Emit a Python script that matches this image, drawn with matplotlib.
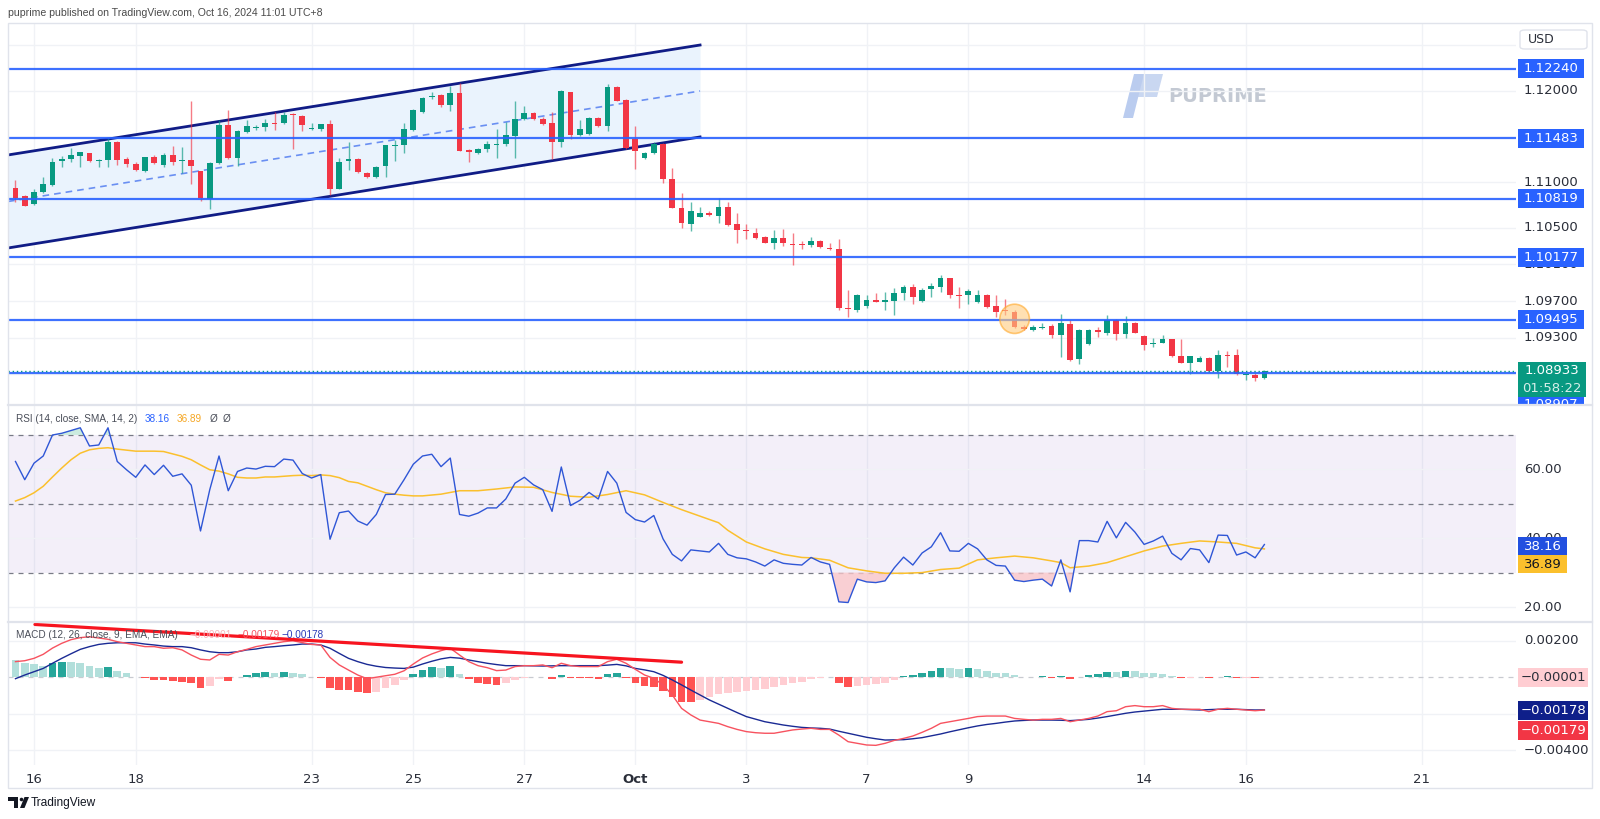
import matplotlib
matplotlib.use('Agg')
import matplotlib.pyplot as plt
from matplotlib.patches import Rectangle, Polygon, Ellipse, FancyBboxPatch
from matplotlib.transforms import Bbox
import numpy as np

W, H = 1600, 819

# ---------------- data (EURUSD 4H) ----------------
opens = [1.10940, 1.10852, 1.10761, 1.10893, 1.10969, 1.11235, 1.11254, 1.11286, 1.11316, 1.11232,
         1.11246, 1.11443, 1.11254, 1.11195, 1.11119, 1.11272, 1.11192, 1.11297, 1.11228, 1.11239,
         1.11119, 1.10813, 1.11206, 1.11622, 1.11265, 1.11553, 1.11593, 1.11607, 1.11644, 1.11644,
         1.11746, 1.11728, 1.11582, 1.11582, 1.11633, 1.10929, 1.11235, 1.11254, 1.11097, 1.11060,
         1.11177, 1.11396, 1.11407, 1.11571, 1.11768, 1.11928, 1.11954, 1.11844, 1.11972, 1.11352,
         1.11323, 1.11367, 1.11410, 1.11414, 1.11505, 1.11695, 1.11760, 1.11695, 1.11644, 1.11443,
         1.11983, 1.11516, 1.11527, 1.11706, 1.11615, 1.12045, 1.11899, 1.11476, 1.11261, 1.11316,
         1.11414, 1.11035, 1.10721, 1.10546, 1.10623, 1.10659, 1.10634, 1.10725, 1.10546, 1.10473,
         1.10441, 1.10397, 1.10338, 1.10386, 1.10324, 1.10320, 1.10309, 1.10357, 1.10284, 1.10265,
         1.09616, 1.09602, 1.09649, 1.09711, 1.09693, 1.09704, 1.09784, 1.09857, 1.09704, 1.09828,
         1.09857, 1.09948, 1.09766, 1.09770, 1.09686, 1.09766, 1.09649, 1.09598, 1.09576, 1.09419,
         1.09383, 1.09409, 1.09427, 1.09328, 1.09449, 1.09066, 1.09230, 1.09383, 1.09354, 1.09492,
         1.09336, 1.09463, 1.09317, 1.09230, 1.09244, 1.09281, 1.09098, 1.09026, 1.09036, 1.09080,
         1.08938, 1.09106, 1.09109, 1.08894, 1.08891, 1.08854]
highs = [1.11024, 1.10860, 1.10922, 1.11057, 1.11261, 1.11290, 1.11378, 1.11330, 1.11323, 1.11250,
         1.11480, 1.11450, 1.11279, 1.11224, 1.11279, 1.11294, 1.11323, 1.11396, 1.11389, 1.11888,
         1.11125, 1.11221, 1.11680, 1.11786, 1.11571, 1.11680, 1.11629, 1.11691, 1.11768, 1.11764,
         1.11753, 1.11735, 1.11644, 1.11640, 1.11680, 1.11268, 1.11436, 1.11261, 1.11108, 1.11181,
         1.11407, 1.11462, 1.11644, 1.11801, 1.11936, 1.11987, 1.11961, 1.12056, 1.12082, 1.11363,
         1.11374, 1.11454, 1.11585, 1.11658, 1.11888, 1.11833, 1.11768, 1.11710, 1.11764, 1.12009,
         1.11990, 1.11680, 1.11717, 1.11717, 1.12074, 1.12052, 1.11910, 1.11618, 1.11334, 1.11443,
         1.11425, 1.11151, 1.10878, 1.10787, 1.10725, 1.10685, 1.10823, 1.10787, 1.10659, 1.10543,
         1.10502, 1.10411, 1.10477, 1.10484, 1.10440, 1.10360, 1.10404, 1.10368, 1.10331, 1.10382,
         1.09821, 1.09777, 1.09766, 1.09784, 1.09795, 1.09839, 1.09875, 1.09882, 1.09839, 1.09893,
         1.09985, 1.09955, 1.09857, 1.09828, 1.09821, 1.09777, 1.09766, 1.09718, 1.09602, 1.09438,
         1.09438, 1.09463, 1.09449, 1.09558, 1.09492, 1.09390, 1.09390, 1.09419, 1.09547, 1.09500,
         1.09540, 1.09474, 1.09328, 1.09292, 1.09328, 1.09288, 1.09288, 1.09098, 1.09098, 1.09091,
         1.09164, 1.09157, 1.09175, 1.08902, 1.08909, 1.08945]
lows = [1.10787, 1.10739, 1.10750, 1.10878, 1.10962, 1.11170, 1.11224, 1.11170, 1.11224, 1.11170,
        1.11162, 1.11192, 1.11162, 1.11119, 1.11115, 1.11199, 1.11170, 1.11188, 1.11097, 1.10980,
        1.10798, 1.10703, 1.11195, 1.11250, 1.11177, 1.11542, 1.11571, 1.11564, 1.11571, 1.11633,
        1.11367, 1.11564, 1.11571, 1.11564, 1.10860, 1.10922, 1.11133, 1.11104, 1.11049, 1.11049,
        1.11053, 1.11232, 1.11323, 1.11564, 1.11761, 1.11906, 1.11826, 1.11782, 1.11337, 1.11224,
        1.11308, 1.11327, 1.11268, 1.11396, 1.11268, 1.11680, 1.11680, 1.11629, 1.11257, 1.11381,
        1.11469, 1.11509, 1.11520, 1.11607, 1.11560, 1.11885, 1.11363, 1.11144, 1.11250, 1.11308,
        1.10995, 1.10714, 1.10495, 1.10466, 1.10616, 1.10630, 1.10557, 1.10524, 1.10338, 1.10382,
        1.10382, 1.10331, 1.10269, 1.10302, 1.10098, 1.10265, 1.10295, 1.10276, 1.10258, 1.09602,
        1.09529, 1.09584, 1.09620, 1.09686, 1.09602, 1.09547, 1.09711, 1.09667, 1.09693, 1.09748,
        1.09802, 1.09729, 1.09620, 1.09667, 1.09675, 1.09627, 1.09529, 1.09547, 1.09408, 1.09383,
        1.09376, 1.09398, 1.09292, 1.09084, 1.09047, 1.09007, 1.09222, 1.09310, 1.09328, 1.09274,
        1.09292, 1.09346, 1.09164, 1.09201, 1.09237, 1.09091, 1.09018, 1.08898, 1.09029, 1.08927,
        1.08854, 1.08975, 1.08891, 1.08836, 1.08829, 1.08850]
closes = [1.10831, 1.10743, 1.10896, 1.10980, 1.11224, 1.11254, 1.11294, 1.11330, 1.11232, 1.11243,
          1.11443, 1.11243, 1.11195, 1.11133, 1.11272, 1.11206, 1.11297, 1.11224, 1.11243, 1.11177,
          1.10831, 1.11206, 1.11622, 1.11261, 1.11556, 1.11615, 1.11604, 1.11644, 1.11637, 1.11739,
          1.11739, 1.11629, 1.11593, 1.11633, 1.10929, 1.11224, 1.11254, 1.11111, 1.11060, 1.11170,
          1.11403, 1.11407, 1.11582, 1.11790, 1.11921, 1.11947, 1.11844, 1.11972, 1.11345, 1.11330,
          1.11367, 1.11414, 1.11418, 1.11513, 1.11695, 1.11760, 1.11688, 1.11640, 1.11443, 1.12001,
          1.11516, 1.11585, 1.11706, 1.11615, 1.12045, 1.11892, 1.11370, 1.11345, 1.11319, 1.11418,
          1.11031, 1.10717, 1.10550, 1.10685, 1.10659, 1.10641, 1.10725, 1.10532, 1.10473, 1.10462,
          1.10393, 1.10338, 1.10386, 1.10331, 1.10309, 1.10313, 1.10357, 1.10287, 1.10265, 1.09620,
          1.09609, 1.09766, 1.09711, 1.09693, 1.09711, 1.09784, 1.09857, 1.09748, 1.09821, 1.09864,
          1.09948, 1.09766, 1.09759, 1.09813, 1.09766, 1.09638, 1.09584, 1.09591, 1.09419, 1.09394,
          1.09419, 1.09416, 1.09328, 1.09456, 1.09055, 1.09383, 1.09383, 1.09361, 1.09492, 1.09336,
          1.09463, 1.09354, 1.09219, 1.09244, 1.09281, 1.09098, 1.09026, 1.09098, 1.09080, 1.08938,
          1.09109, 1.09098, 1.08898, 1.08902, 1.08854, 1.08933]

rsi = [62.3, 57.0, 61.8, 63.9, 70.0, 70.5, 71.3, 72.1, 66.8, 67.1,
       72.1, 62.3, 59.9, 57.7, 61.3, 58.5, 61.2, 58.0, 58.7, 55.4,
       42.1, 54.1, 63.9, 53.8, 59.4, 60.4, 60.1, 60.9, 60.8, 63.0,
       62.7, 58.8, 57.5, 58.5, 39.7, 47.4, 47.9, 45.0, 43.8, 46.9,
       52.7, 52.8, 57.0, 61.5, 63.9, 64.4, 60.8, 63.3, 46.9, 46.4,
       47.3, 48.8, 48.8, 51.4, 56.0, 57.7, 55.5, 54.1, 47.8, 60.7,
       49.5, 51.0, 53.3, 51.4, 59.4, 56.0, 47.5, 45.4, 44.7, 46.6,
       39.8, 35.3, 33.4, 36.6, 36.3, 36.0, 38.5, 35.3, 34.3, 34.0,
       33.1, 31.9, 33.7, 32.7, 32.4, 32.2, 34.4, 33.1, 32.4, 21.5,
       21.3, 28.1, 27.3, 27.1, 27.6, 31.4, 34.5, 32.2, 35.7, 37.5,
       41.6, 36.3, 36.2, 38.5, 36.9, 33.7, 32.1, 31.9, 27.8, 27.4,
       27.8, 28.1, 26.1, 33.7, 24.4, 39.3, 39.3, 38.9, 44.9, 40.1,
       44.6, 41.8, 38.2, 39.2, 40.6, 35.6, 33.7, 37.0, 36.6, 32.9,
       40.9, 40.8, 35.1, 36.0, 34.3, 38.16]

rsi_sma_idx = [0, 1, 2, 3, 4, 5, 6, 7, 8, 9, 10, 11, 13, 15, 16, 17, 18, 19, 20, 21,
               22, 23, 24, 25, 26, 27, 28, 29, 30, 31, 32, 33, 34, 35, 36, 37, 38, 39, 40, 41,
               42, 43, 44, 46, 48, 50, 52, 54, 56, 58, 60, 62, 64, 66, 68, 70, 72, 74, 76, 77,
               79, 81, 83, 85, 86, 88, 90, 92, 94, 96, 98, 100, 102, 104, 106, 108, 110, 112, 113, 114,
               116, 118, 120, 122, 124, 126, 128, 130, 132, 134, 135]
rsi_sma = [50.8, 51.8, 53.2, 55.1, 57.8, 60.4, 62.8, 64.7, 65.7, 66.1, 66.3, 65.9, 65.3, 65.3, 65.2, 64.5, 63.8, 62.8, 61.3, 59.9,
           59.5, 58.7, 57.7, 57.5, 57.5, 57.8, 57.8, 58.0, 58.2, 58.3, 58.2, 58.4, 58.2, 57.6, 56.5, 56.1, 55.1, 54.1, 53.2, 52.8,
           52.5, 52.3, 52.3, 52.8, 53.8, 53.8, 54.3, 54.9, 54.8, 53.3, 52.2, 51.9, 52.7, 53.8, 52.6, 50.4, 48.3, 46.4, 44.5, 42.3,
           38.9, 36.9, 35.3, 34.4, 34.3, 33.6, 31.4, 30.5, 29.8, 29.8, 30.0, 30.9, 31.3, 33.7, 34.3, 34.8, 34.3, 33.4, 32.9, 31.4,
           31.9, 32.9, 34.6, 36.3, 37.7, 38.5, 39.2, 38.9, 38.5, 37.2, 36.89]

macd = [0.00085, 0.00090, 0.00103, 0.00125, 0.00159, 0.00185, 0.00205, 0.00216, 0.00221, 0.00214,
        0.00207, 0.00194, 0.00185, 0.00176, 0.00167, 0.00167, 0.00158, 0.00161, 0.00149, 0.00121,
        0.00098, 0.00094, 0.00125, 0.00121, 0.00139, 0.00152, 0.00167, 0.00176, 0.00185, 0.00194,
        0.00199, 0.00189, 0.00179, 0.00176, 0.00108, 0.00067, 0.00039, 0.00012, -0.00008, 0.00000,
        0.00008, 0.00016, 0.00035, 0.00072, 0.00105, 0.00127, 0.00145, 0.00158, 0.00121, 0.00085,
        0.00063, 0.00052, 0.00036, 0.00039, 0.00058, 0.00063, 0.00063, 0.00067, 0.00052, 0.00076,
        0.00063, 0.00058, 0.00058, 0.00058, 0.00085, 0.00098, 0.00076, 0.00043, 0.00012, -0.00006,
        -0.00043, -0.00097, -0.00170, -0.00206, -0.00234, -0.00243, -0.00252, -0.00270, -0.00285, -0.00297,
        -0.00303, -0.00306, -0.00306, -0.00297, -0.00288, -0.00283, -0.00279, -0.00285, -0.00285, -0.00316,
        -0.00352, -0.00361, -0.00370, -0.00372, -0.00361, -0.00345, -0.00334, -0.00321, -0.00301, -0.00279,
        -0.00252, -0.00243, -0.00234, -0.00225, -0.00215, -0.00212, -0.00212, -0.00212, -0.00225, -0.00230,
        -0.00234, -0.00230, -0.00230, -0.00225, -0.00243, -0.00234, -0.00225, -0.00212, -0.00188, -0.00183,
        -0.00161, -0.00155, -0.00161, -0.00161, -0.00155, -0.00170, -0.00175, -0.00175, -0.00175, -0.00188,
        -0.00175, -0.00170, -0.00175, -0.00179, -0.00183, -0.00179]
signal = [-0.00008, 0.00012, 0.00030, 0.00048, 0.00076, 0.00103, 0.00128, 0.00152, 0.00167, 0.00179,
          0.00185, 0.00188, 0.00188, 0.00188, 0.00181, 0.00176, 0.00170, 0.00167, 0.00167, 0.00161,
          0.00149, 0.00139, 0.00134, 0.00134, 0.00139, 0.00149, 0.00154, 0.00163, 0.00167, 0.00172,
          0.00176, 0.00181, 0.00181, 0.00176, 0.00158, 0.00130, 0.00103, 0.00085, 0.00070, 0.00060,
          0.00053, 0.00050, 0.00048, 0.00055, 0.00072, 0.00087, 0.00100, 0.00108, 0.00104, 0.00094,
          0.00085, 0.00076, 0.00069, 0.00063, 0.00063, 0.00063, 0.00062, 0.00061, 0.00062, 0.00063,
          0.00063, 0.00063, 0.00063, 0.00063, 0.00066, 0.00070, 0.00062, 0.00048, 0.00040, 0.00030,
          0.00010, -0.00015, -0.00042, -0.00070, -0.00097, -0.00124, -0.00147, -0.00170, -0.00193, -0.00215,
          -0.00229, -0.00243, -0.00252, -0.00261, -0.00268, -0.00274, -0.00277, -0.00279, -0.00283, -0.00295,
          -0.00306, -0.00317, -0.00328, -0.00336, -0.00343, -0.00342, -0.00341, -0.00336, -0.00330, -0.00320,
          -0.00310, -0.00298, -0.00287, -0.00276, -0.00266, -0.00258, -0.00252, -0.00245, -0.00239, -0.00236,
          -0.00234, -0.00234, -0.00234, -0.00235, -0.00237, -0.00234, -0.00230, -0.00223, -0.00215, -0.00206,
          -0.00197, -0.00190, -0.00185, -0.00180, -0.00175, -0.00175, -0.00175, -0.00177, -0.00179, -0.00177,
          -0.00175, -0.00175, -0.00175, -0.00177, -0.00179, -0.00178]
hist = [0.00094, 0.00076, 0.00070, 0.00063, 0.00079, 0.00085, 0.00084, 0.00079, 0.00063, 0.00048,
        0.00054, 0.00034, 0.00021, 0.00003, -0.00004, -0.00015, -0.00016, -0.00019, -0.00024, -0.00030,
        -0.00057, -0.00048, -0.00012, -0.00019, 0.00002, 0.00014, 0.00021, 0.00027, 0.00021, 0.00027,
        0.00025, 0.00016, 0.00003, -0.00002, -0.00057, -0.00070, -0.00072, -0.00079, -0.00088, -0.00082,
        -0.00057, -0.00041, -0.00015, 0.00016, 0.00039, 0.00053, 0.00052, 0.00060, 0.00017, -0.00009,
        -0.00029, -0.00037, -0.00042, -0.00029, -0.00015, -0.00003, 0.00003, 0.00001, -0.00009, 0.00010,
        -0.00002, -0.00003, -0.00004, -0.00008, 0.00016, 0.00021, -0.00002, -0.00033, -0.00048, -0.00052,
        -0.00075, -0.00106, -0.00134, -0.00135, -0.00124, -0.00106, -0.00092, -0.00088, -0.00079, -0.00075,
        -0.00070, -0.00066, -0.00055, -0.00042, -0.00033, -0.00024, -0.00012, -0.00004, 0.00002, -0.00033,
        -0.00052, -0.00050, -0.00042, -0.00037, -0.00029, -0.00015, 0.00007, 0.00011, 0.00025, 0.00036,
        0.00050, 0.00049, 0.00043, 0.00049, 0.00043, 0.00036, 0.00025, 0.00021, 0.00010, 0.00003,
        0.00002, 0.00004, -0.00002, 0.00007, -0.00012, 0.00003, 0.00010, 0.00016, 0.00030, 0.00029,
        0.00036, 0.00032, 0.00023, 0.00021, 0.00020, 0.00008, -0.00002, -0.00002, -0.00001, -0.00006,
        0.00001, 0.00006, -0.00002, -0.00002, -0.00005, -0.00001]

date_ticks = [2, 13, 32, 43, 55, 67, 79, 92, 103, 122, 133, 152]
date_labels = ['16', '18', '23', '25', '27', 'Oct', '3', '7', '9', '14', '16', '21']

levels = [1.12240, 1.11483, 1.10819, 1.10177, 1.09495, 1.08907]
last_price = 1.08933
channel_x = [-0.81, 74.0]
channel_top = [1.11298, 1.12501]
channel_mid = [1.10789, 1.11998]
channel_bot = [1.10280, 1.11495]
div_x = [2.1, 72.0]
div_y = [0.00288, 0.00082]

# ---------------- figure ----------------
UP, DOWN = '#089981', '#f23645'
GRID = '#f0f2f6'
TXT = '#2a2e39'
plt.rcParams['font.family'] = ['DejaVu Sans']

fig = plt.figure(figsize=(W / 100, H / 100), dpi=100)
fig.patch.set_facecolor('white')


def rect(x0, y0, x1, y1):
    return [x0 / W, 1 - y1 / H, (x1 - x0) / W, (y1 - y0) / H]


ax_p = fig.add_axes(rect(8, 23, 1516, 405))
ax_r = fig.add_axes(rect(8, 405, 1516, 622))
ax_m = fig.add_axes(rect(8, 622, 1516, 765))
XL = (-0.81, 162.2)
for ax in (ax_p, ax_r, ax_m):
    ax.set_xlim(*XL)
    ax.patch.set_alpha(0)
    for s in ax.spines.values():
        s.set_visible(False)
    ax.tick_params(left=False, right=False, bottom=False, labelleft=False, labelbottom=False)
    for t in date_ticks:
        ax.axvline(t, color=GRID, lw=1, zorder=0)

ax_p.set_ylim(1.08562, 1.12742)
ax_r.set_ylim(15.64, 78.72)
ax_m.set_ylim(-0.004793, 0.003014)

# ---- price pane ----
x = np.arange(len(closes))
o, h, l, c = map(np.array, (opens, highs, lows, closes))
cols = np.where(c >= o, UP, DOWN)
for g in [1.125, 1.12, 1.115, 1.11, 1.105, 1.101, 1.097, 1.093, 1.089]:
    ax_p.axhline(g, color=GRID, lw=1, zorder=0)
ax_p.fill_between(channel_x, channel_bot, channel_top, color='#eaf3fd', zorder=1, lw=0)
ax_p.plot(channel_x, channel_top, color='#101c86', lw=2, zorder=2)
ax_p.plot(channel_x, channel_bot, color='#101c86', lw=2, zorder=2)
ax_p.plot(channel_x, channel_mid, color='#6a8ff2', lw=1.2, ls=(0, (4, 3)), zorder=2)
ax_p.vlines(x, l, h, colors=cols, lw=1, alpha=0.65, zorder=3)
body = np.maximum(np.abs(c - o), 0.00010)
ax_p.bar(x, body, bottom=np.minimum(o, c), width=0.62, color=cols, lw=0, zorder=4)
for lv in levels:
    ax_p.axhline(lv, color='#2962ff', lw=1.6, alpha=0.9, zorder=5)
ax_p.axhline(last_price, color='#089981', lw=1, ls=(0, (1, 2)), zorder=5)
ax_p.add_patch(Ellipse((108, 1.09505), 3.2, 0.0032, fc='#ffcc80', ec='#ffa726', lw=1.2, alpha=0.6, zorder=6))

# ---- RSI pane ----
rs = np.array(rsi)
ax_r.axhspan(30, 70, color='#7e57c2', alpha=0.09, lw=0, zorder=0)
for g in [60, 40, 20]:
    ax_r.axhline(g, color=GRID, lw=1, zorder=0)
for g in [70, 50, 30]:
    ax_r.axhline(g, color='#787b86', lw=0.9, ls=(0, (4, 4)), zorder=1)
ax_r.fill_between(x, rs, 30, where=rs < 30, interpolate=True, color='#f8c4c8', alpha=0.8, lw=0, zorder=1)
ax_r.fill_between(x, rs, 70, where=rs > 70, interpolate=True, color='#bfe6d8', alpha=0.8, lw=0, zorder=1)
ax_r.plot(rsi_sma_idx, rsi_sma, color='#fbc02d', lw=1.1, zorder=2)
ax_r.plot(x, rs, color='#2f56d6', lw=1.0, zorder=3)

# ---- MACD pane ----
hv = np.array(hist)
hcol = []
for i, v in enumerate(hv):
    prev = hv[i - 1] if i > 0 else v
    if v >= 0:
        hcol.append('#26a69a' if v > prev else '#b2dfdb')
    else:
        hcol.append('#ff5252' if v < prev else '#ffcdd2')
for g in [0.002, -0.002, -0.004]:
    ax_m.axhline(g, color=GRID, lw=1, zorder=0)
ax_m.axhline(0, color='#c8cad0', lw=0.9, ls=(0, (4, 4)), zorder=0)
ax_m.bar(x, hv, width=0.82, color=hcol, lw=0, zorder=1)
ax_m.plot(x, signal, color='#1a2a94', lw=1.0, zorder=2)
ax_m.plot(x, macd, color='#f7525f', lw=1.0, zorder=3)
ax_m.plot(div_x, div_y, color='#f7141f', lw=2.3, solid_capstyle='round', zorder=4)

ax_m.tick_params(labelbottom=True, pad=2, labelsize=9.5, labelcolor=TXT)
ax_m.set_xticks(date_ticks)
ax_m.set_xticklabels(date_labels)
ax_m.get_xticklabels()[5].set_fontweight('bold')

# ---------------- frame & separators ----------------
fig.add_artist(Rectangle((8 / W, 1 - 788 / H), 1584 / W, 765 / H, transform=fig.transFigure,
                         fc='none', ec='#e0e3eb', lw=1, zorder=20))
for yy in (405, 622):
    fig.add_artist(plt.Line2D([8 / W, 1592 / W], [1 - yy / H, 1 - yy / H], transform=fig.transFigure,
                              color='#e0e3eb', lw=1.6, zorder=20))


def ypix(ax, v):
    return H - ax.transData.transform((0, v))[1]


def ftext(px, py, s, **kw):
    kw.setdefault('va', 'center')
    return fig.text(px / W, 1 - py / H, s, **kw)


def box(py, s, fc, tc, x0=1518, w=66, hh=19, size=9.5, weight='normal'):
    fig.add_artist(Rectangle((x0 / W, 1 - (py + hh / 2) / H), w / W, hh / H, transform=fig.transFigure,
                             fc=fc, ec='none', zorder=10))
    ftext(x0 + w / 2, py, s, ha='center', color=tc, fontsize=size, fontweight=weight, zorder=11)


def hidden_label(py, s, top, bottom):
    # axis label partly covered by a value box: only the uncovered strip is drawn
    t = ftext(1524, py, s, ha='left', color=TXT, fontsize=9.5, zorder=12)
    t.set_clip_box(Bbox.from_extents(1518, H - bottom, 1592, H - top))


# price axis labels
for v, s in [(1.12, '1.12000'), (1.11, '1.11000'), (1.105, '1.10500'),
             (1.097, '1.09700'), (1.093, '1.09300')]:
    ftext(1524, ypix(ax_p, v), s, ha='left', color=TXT, fontsize=9.5)
y101 = ypix(ax_p, 1.101)
hidden_label(y101, '1.10100', ypix(ax_p, levels[3]) + 9.5, y101 + 9)
for lv in levels[:-1]:
    box(ypix(ax_p, lv), f'{lv:.5f}', '#2962ff', 'white')
# partially hidden level box at pane bottom
fig.add_artist(Rectangle((1518 / W, 1 - 405 / H), 66 / W, 9 / H, transform=fig.transFigure,
                         fc='#2962ff', ec='none', zorder=10))
t = ftext(1551, 405, f'{levels[-1]:.5f}', ha='center', color='white', fontsize=9.5, zorder=11)
t.set_clip_box(Bbox.from_extents(1518, H - 405, 1584, H - 396))
# last price box
fig.add_artist(Rectangle((1518 / W, 1 - 397 / H), 68 / W, 35 / H, transform=fig.transFigure,
                         fc='#089981', ec='none', zorder=10))
ftext(1552, 371, f'{last_price:.5f}', ha='center', color='white', fontsize=9.5, zorder=11)
ftext(1552, 388, '01:58:22', ha='center', color='#d6efe9', fontsize=9.5, zorder=11)
# USD
fig.add_artist(FancyBboxPatch((1520 / W, 1 - 49 / H), 67 / W, 19 / H, boxstyle='round,pad=0,rounding_size=0.003',
                              transform=fig.transFigure, fc='white', ec='#e0e3eb', lw=1, zorder=10))
ftext(1528, 39.5, 'USD', ha='left', color=TXT, fontsize=9, zorder=11)

# RSI axis labels
for v, s in [(60, '60.00'), (20, '20.00')]:
    ftext(1524, ypix(ax_r, v), s, ha='left', color=TXT, fontsize=9.5)
y40 = ypix(ax_r, 40)
hidden_label(y40, '40.00', y40 - 9, 537)
box(546, '38.16', '#2250e0', 'white', w=49, hh=18)
box(564, '36.89', '#fbc02d', '#131722', w=49, hh=18)

# MACD axis labels
for v, s in [(0.002, '0.00200'), (-0.004, '\u22120.00400')]:
    ftext(1524, ypix(ax_m, v), s, ha='left', color=TXT, fontsize=9.5)
box(677.5, '\u22120.00001', '#ffcdd2', '#2a2e39', w=70)
box(710, '\u22120.00178', '#0f1f8a', 'white', w=70)
box(730, '\u22120.00179', '#f23645', 'white', w=70)

# ---------------- legends / header ----------------
HF = dict(fontsize=7.2, family=['Liberation Sans', 'DejaVu Sans'])
ftext(8, 13, 'puprime published on TradingView.com, Oct 16, 2024 11:01 UTC+8', color='#4a4a4a', ha='left',
      fontsize=7.6, family=['Liberation Sans', 'DejaVu Sans'])
ftext(16, 419, 'RSI (14, close, SMA, 14, 2)', color='#4a4e59', ha='left', zorder=12, **HF)
ftext(145, 419, '38.16', color='#2962ff', ha='left', zorder=12, **HF)
ftext(177, 419, '36.89', color='#f5a623', ha='left', zorder=12, **HF)
ftext(210, 419, '\u00d8', color='#4a4e59', ha='left', zorder=12, **HF)
ftext(223, 419, '\u00d8', color='#4a4e59', ha='left', zorder=12, **HF)
ftext(16, 635, 'MACD (12, 26, close, 9, EMA, EMA)', color='#4a4e59', ha='left', zorder=12, **HF)
ftext(189, 635, '\u22120.00001', color='#f7b3ba', ha='left', zorder=12, **HF)
ftext(238, 635, '\u22120.00179', color='#f7525f', ha='left', zorder=12, **HF)
ftext(282, 635, '\u22120.00178', color='#2a3ab8', ha='left', zorder=12, **HF)

# footer
fig.add_artist(Polygon([[8 / W, 1 - 797 / H], [18 / W, 1 - 797 / H], [18 / W, 1 - 808 / H], [13.5 / W, 1 - 808 / H],
                        [13.5 / W, 1 - 801 / H], [8 / W, 1 - 801 / H]], closed=True, transform=fig.transFigure,
                       fc='#131722', ec='none'))
fig.add_artist(Ellipse((21.5 / W, 1 - 799.5 / H), 3.6 / W, 3.6 / H, transform=fig.transFigure, fc='#131722', ec='none'))
fig.add_artist(Polygon([[20 / W, 1 - 808 / H], [24.5 / W, 1 - 797 / H], [29 / W, 1 - 797 / H], [24.5 / W, 1 - 808 / H]],
                       closed=True, transform=fig.transFigure, fc='#131722', ec='none'))
ftext(31, 803, 'TradingView', ha='left', color='#131722', fontsize=8.6, family=['Liberation Sans', 'DejaVu Sans'])

# watermark
fig.add_artist(Polygon([[1123 / W, 1 - 118 / H], [1133 / W, 1 - 118 / H], [1144 / W, 1 - 74 / H], [1134 / W, 1 - 74 / H]],
                       closed=True, transform=fig.transFigure, fc='#a9c0ec', ec='none', alpha=0.8, zorder=-1))
fig.add_artist(Polygon([[1140 / W, 1 - 74 / H], [1163 / W, 1 - 74 / H], [1157 / W, 1 - 97 / H], [1135 / W, 1 - 97 / H]],
                       closed=True, transform=fig.transFigure, fc='#bccdee', ec='none', alpha=0.8, zorder=-1))
ftext(1168, 96, 'PUPRIME', ha='left', color='#c3c9d3', fontsize=14, fontweight='bold', zorder=-1)

fig.savefig('out.png', dpi=100, facecolor='white')
